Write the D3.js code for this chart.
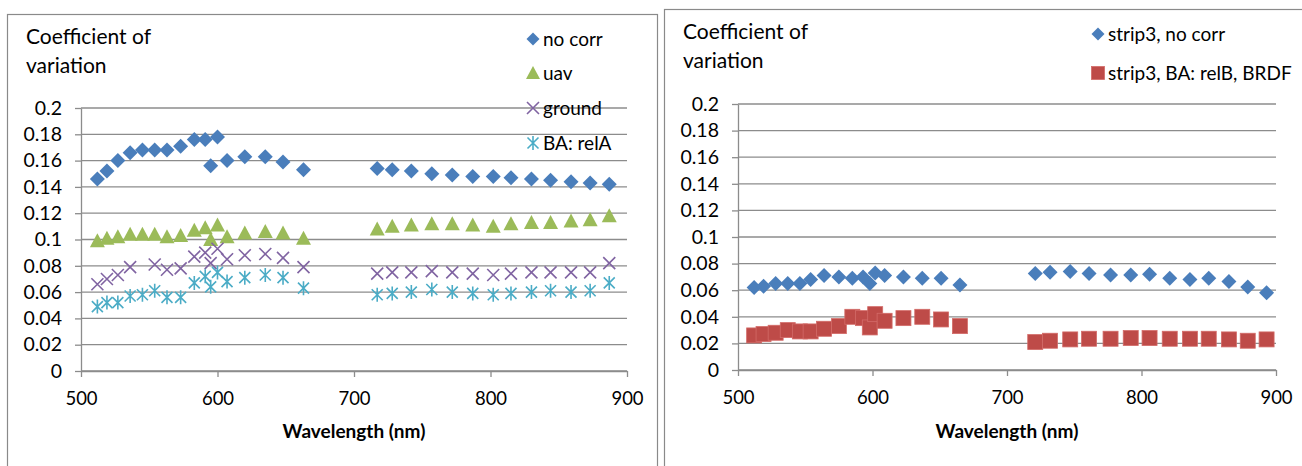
<!DOCTYPE html>
<html>
<head>
<meta charset="utf-8">
<script src="https://cdn.jsdelivr.net/npm/d3@7.9.0/dist/d3.min.js"></script>
<style>
  body { margin: 0; background: #fff; }
  svg text { font-family: Lato, "Open Sans", sans-serif; fill: #000; }
</style>
</head>
<body>
<svg id="chart" width="1302" height="466"></svg>
<script>
// shared axes
const xTicks = [500, 600, 700, 800, 900];
const yTicks = [0, 0.02, 0.04, 0.06, 0.08, 0.1, 0.12, 0.14, 0.16, 0.18, 0.2];
const yTickLabels = ["0", "0.02", "0.04", "0.06", "0.08", "0.1", "0.12", "0.14", "0.16", "0.18", "0.2"];

// left chart
const leftWavelengths = [512, 519, 527, 536, 545, 554, 563, 573, 583, 591, 595, 600, 607, 620, 635, 648, 663,
  717, 728, 742, 757, 772, 787, 802, 815, 830, 844, 859, 873, 887];
const noCorr = [0.146, 0.152, 0.160, 0.166, 0.168, 0.168, 0.168, 0.171, 0.176, 0.176, 0.156, 0.178, 0.160, 0.163, 0.163, 0.159, 0.153,
  0.154, 0.153, 0.152, 0.150, 0.149, 0.148, 0.148, 0.147, 0.146, 0.145, 0.144, 0.143, 0.142];
const uav = [0.099, 0.101, 0.102, 0.104, 0.104, 0.104, 0.102, 0.103, 0.107, 0.109, 0.100, 0.111, 0.102, 0.105, 0.106, 0.105, 0.101,
  0.108, 0.110, 0.111, 0.112, 0.112, 0.111, 0.110, 0.112, 0.113, 0.113, 0.114, 0.115, 0.118];
const ground = [0.066, 0.070, 0.073, 0.079, null, 0.081, 0.077, 0.078, 0.087, 0.090, 0.082, 0.093, 0.085, 0.088, 0.089, 0.086, 0.079,
  0.074, 0.075, 0.075, 0.076, 0.075, 0.074, 0.073, 0.074, 0.075, 0.075, 0.075, 0.075, 0.082];
const baRelA = [0.049, 0.052, 0.052, 0.057, 0.058, 0.061, 0.056, 0.056, 0.067, 0.072, 0.064, 0.075, 0.068, 0.071, 0.073, 0.071, 0.063,
  0.058, 0.059, 0.060, 0.062, 0.060, 0.059, 0.058, 0.059, 0.060, 0.061, 0.060, 0.061, 0.067];

// right chart
const rightWavelengths = [512, 519, 528, 537, 546, 554, 564, 575, 585, 593, 598, 602, 609, 623, 637, 651, 665,
  721, 732, 747, 761, 777, 792, 806, 821, 836, 850, 865, 879, 893];
const strip3NoCorr = [0.062, 0.063, 0.065, 0.065, 0.065, 0.068, 0.071, 0.070, 0.069, 0.070, 0.065, 0.073, 0.071, 0.070, 0.069, 0.069, 0.064,
  0.0725, 0.0735, 0.074, 0.0725, 0.0715, 0.0715, 0.072, 0.069, 0.068, 0.069, 0.0665, 0.0625, 0.058];
const strip3BA = [0.026, 0.027, 0.028, 0.030, 0.029, 0.029, 0.031, 0.033, 0.040, 0.039, 0.032, 0.042, 0.037, 0.039, 0.040, 0.038, 0.033,
  0.021, 0.022, 0.023, 0.0235, 0.0235, 0.024, 0.024, 0.0235, 0.0235, 0.0235, 0.023, 0.022, 0.023];

const svg = d3.select("#chart");
const gridColor = "#8c8c8c";

// Excel style markers, drawn around (0,0)
function addMarker(g, shape, color, r) {
  if (shape === "diamond") {
    g.append("path").attr("d", `M0,${-r}L${r},0L0,${r}L${-r},0Z`).attr("fill", color);
  } else if (shape === "triangle") {
    g.append("path").attr("d", `M0,${-r}L${r},${r - 1}L${-r},${r - 1}Z`).attr("fill", color);
  } else if (shape === "cross") {
    let s = r - 1;
    g.append("path").attr("d", `M${-s},${-s}L${s},${s}M${-s},${s}L${s},${-s}`)
      .attr("stroke", color).attr("stroke-width", 1.6).attr("fill", "none");
  } else if (shape === "star") {
    let s = r - 1.5;
    g.append("path").attr("d", `M${-s},${-s}L${s},${s}M${-s},${s}L${s},${-s}M0,${-r}L0,${r}`)
      .attr("stroke", color).attr("stroke-width", 1.6).attr("fill", "none");
  } else if (shape === "square") {
    g.append("rect").attr("x", -r).attr("y", -r).attr("width", 2 * r).attr("height", 2 * r)
      .attr("fill", color).attr("stroke", "#d36b68").attr("stroke-width", 0.8);
  }
}

function drawChart(cfg) {
  const g = svg.append("g");

  g.append("rect")
    .attr("x", cfg.frame[0]).attr("y", cfg.frame[1])
    .attr("width", cfg.frame[2]).attr("height", cfg.frame[3])
    .attr("fill", "#fff").attr("stroke", "#8a8a8a").attr("stroke-width", 1.2);

  const x = d3.scaleLinear().domain([500, 900]).range([cfg.left, cfg.right]);
  const y = d3.scaleLinear().domain([0, 0.2]).range([cfg.bottom, cfg.top]);

  // gridlines
  g.append("g")
    .selectAll("line")
    .data(yTicks)
    .join("line")
    .attr("x1", cfg.left).attr("x2", cfg.right)
    .attr("y1", (d) => y(d)).attr("y2", (d) => y(d))
    .attr("stroke", gridColor).attr("stroke-width", 1.3);

  const yAxis = g.append("g")
    .attr("transform", `translate(${cfg.left},0)`)
    .call(d3.axisLeft(y).tickValues(yTicks).tickFormat((d, i) => yTickLabels[i]).tickSize(6).tickSizeOuter(0).tickPadding(13));

  const xAxis = g.append("g")
    .attr("transform", `translate(0,${cfg.bottom})`)
    .call(d3.axisBottom(x).tickValues(xTicks).tickFormat(d3.format("d")).tickSize(6).tickSizeOuter(0).tickPadding(15));

  [yAxis, xAxis].forEach((a) => {
    a.select(".domain").attr("stroke", gridColor).attr("stroke-width", 1.3);
    a.selectAll(".tick line").attr("stroke", gridColor).attr("stroke-width", 1.3);
    a.selectAll("text").attr("fill", "#000");
  });
  yAxis.selectAll("text").attr("font-size", 19.5);
  xAxis.selectAll("text").attr("font-size", 18.5);

  // y title, two lines
  g.append("text").attr("x", cfg.titleX).attr("y", cfg.titleY).attr("font-size", 21).text("Coefficient of");
  g.append("text").attr("x", cfg.titleX).attr("y", cfg.titleY + 29).attr("font-size", 21).text("variation");

  g.append("text")
    .attr("x", (cfg.left + cfg.right) / 2).attr("y", 438)
    .attr("text-anchor", "middle").attr("font-size", 19).attr("font-weight", "bold")
    .text("Wavelength (nm)");

  // series
  cfg.series.forEach((s) => {
    const pts = cfg.wavelengths.map((w, i) => ({ w, v: s.values[i] })).filter((d) => d.v !== null);
    g.append("g")
      .selectAll("g")
      .data(pts)
      .join("g")
      .attr("transform", (d) => `translate(${x(d.w)},${y(d.v)})`)
      .each(function () { addMarker(d3.select(this), s.shape, s.color, s.size); });
  });

  // legend
  cfg.series.forEach((s, i) => {
    const item = g.append("g").attr("transform", `translate(${cfg.legendX},${cfg.legendY[i]})`);
    addMarker(item.append("g"), s.shape, s.color, s.legendSize);
    item.append("text").attr("x", 10).attr("dy", "0.36em").attr("font-size", 19).text(s.label);
  });
}

drawChart({
  frame: [7.5, 14.5, 650, 470],
  left: 81, right: 627, top: 108, bottom: 371,
  titleX: 26, titleY: 44,
  legendX: 533, legendY: [39, 73, 108, 143],
  wavelengths: leftWavelengths,
  series: [
    { label: "no corr", values: noCorr, shape: "diamond", color: "#4a7ebb", size: 7.5, legendSize: 6.5 },
    { label: "uav", values: uav, shape: "triangle", color: "#9bbb59", size: 7.5, legendSize: 7 },
    { label: "ground", values: ground, shape: "cross", color: "#8064a2", size: 7, legendSize: 7 },
    { label: "BA: relA", values: baRelA, shape: "star", color: "#4bacc6", size: 7, legendSize: 7 },
  ],
});

drawChart({
  frame: [664.5, 9.5, 660, 470],
  left: 738, right: 1276, top: 104, bottom: 370,
  titleX: 683, titleY: 39,
  legendX: 1098, legendY: [34, 73],
  wavelengths: rightWavelengths,
  series: [
    { label: "strip3, no corr", values: strip3NoCorr, shape: "diamond", color: "#4a7ebb", size: 7.5, legendSize: 6.5 },
    { label: "strip3, BA: relB, BRDF", values: strip3BA, shape: "square", color: "#be4b48", size: 7.5, legendSize: 6.5 },
  ],
});
</script>
</body>
</html>
